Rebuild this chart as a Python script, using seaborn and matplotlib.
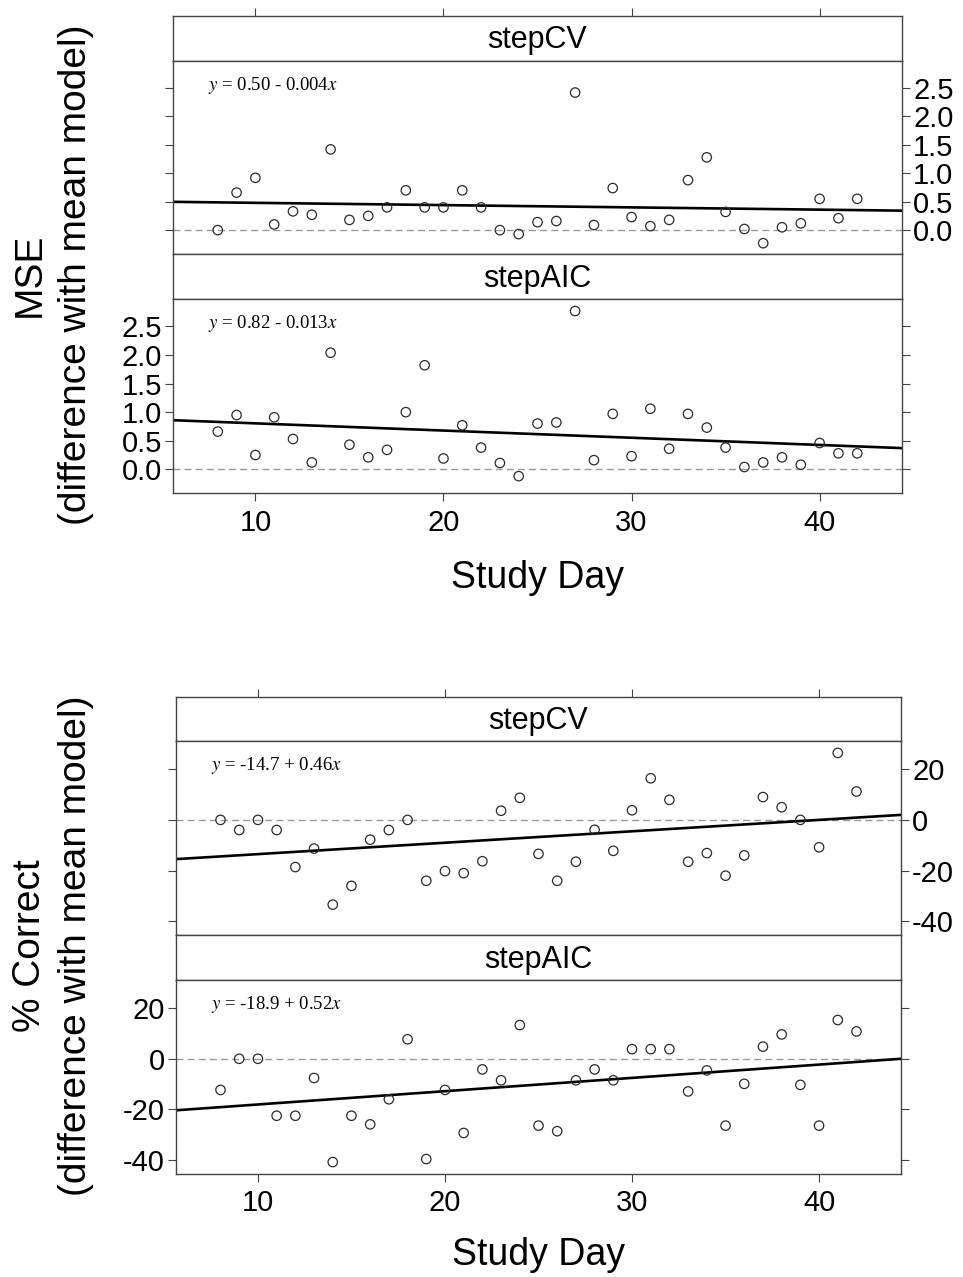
# Lattice-style comparison of stepCV / stepAIC against the mean model
import matplotlib
matplotlib.use('Agg')
import matplotlib.pyplot as plt
import seaborn as sns
import pandas as pd

sns.set_style('ticks')
plt.rcParams['font.family'] = ['Liberation Sans', 'DejaVu Sans']
plt.rcParams['mathtext.fontset'] = 'stix'
plt.rcParams['text.color'] = 'black'

# Data
days = [8, 9, 10, 11, 12, 13, 14, 15, 16, 17, 18, 19, 20, 21, 22, 23, 24,
        25, 26, 27, 28, 29, 30, 31, 32, 33, 34, 35, 36, 37, 38, 39, 40, 41, 42]

mse_stepcv = [0.00, 0.66, 0.92, 0.10, 0.33, 0.27, 1.42, 0.18, 0.25, 0.40, 0.70, 0.40,
              0.40, 0.70, 0.40, 0.00, -0.07, 0.14, 0.16, 2.42, 0.09, 0.74, 0.23, 0.07,
              0.18, 0.88, 1.28, 0.32, 0.02, -0.23, 0.05, 0.12, 0.55, 0.21, 0.55]
mse_stepaic = [0.66, 0.95, 0.25, 0.91, 0.53, 0.12, 2.04, 0.43, 0.21, 0.34, 1.00, 1.82,
               0.19, 0.77, 0.38, 0.11, -0.12, 0.80, 0.82, 2.77, 0.16, 0.97, 0.23, 1.06,
               0.36, 0.97, 0.73, 0.38, 0.04, 0.12, 0.21, 0.08, 0.46, 0.28, 0.28]

pc_stepcv = [0.0, -4.0, 0.0, -4.0, -18.6, -11.3, -33.4, -26.0, -7.8, -4.0, 0.0, -24.0,
             -20.2, -21.0, -16.3, 3.6, 8.7, -13.4, -24.0, -16.5, -3.9, -12.2, 3.8, 16.4,
             7.9, -16.5, -13.1, -22.0, -14.0, 9.0, 5.0, 0.0, -10.8, 26.4, 11.2]
pc_stepaic = [-12.3, 0.0, 0.0, -22.5, -22.5, -7.6, -40.8, -22.5, -25.9, -16.0, 7.7, -39.6,
              -12.3, -29.3, -4.2, -8.5, 13.3, -26.4, -28.6, -8.5, -4.2, -8.5, 3.8, 3.8,
              3.8, -12.9, -4.6, -26.4, -9.9, 4.8, 9.6, -10.3, -26.4, 15.3, 10.8]

models = ['stepCV', 'stepAIC']
mse_eqs = ['0.50 - 0.004', '0.82 - 0.013']
pc_eqs = ['-14.7 + 0.46', '-18.9 + 0.52']
# regression lines as drawn (intercept, slope)
mse_lines = [(0.52, -0.004), (0.93, -0.0126)]
pc_lines = [(-18.0, 0.45), (-23.3, 0.525)]

xticks = [10, 20, 30, 40]
mse_yticks = [0.0, 0.5, 1.0, 1.5, 2.0, 2.5]
mse_ylabels = ['0.0', '0.5', '1.0', '1.5', '2.0', '2.5']
pc_yticks = [-40, -20, 0, 20]
pc_ylabels = ['-40', '-20', '0', '20']

W, H = 963, 1277
XLIM = (5.62, 44.38)
EDGE = '#444444'

fig = plt.figure(figsize=(W / 100, H / 100), dpi=100)


def box(x0, x1, y0, y1):
    return [x0 / W, 1 - y1 / H, (x1 - x0) / W, (y1 - y0) / H]


def draw_block(x0, x1, edges, series, ylim, yticks, ylabels, eqs, lines,
               ylab, ylab_y, xlab_y):
    for i, model in enumerate(models):
        # strip
        sax = fig.add_axes(box(x0, x1, edges[2 * i], edges[2 * i + 1]))
        sax.set_xlim(XLIM)
        sax.set_ylim(0, 1)
        sax.set_yticks([])
        if i == 0:
            sax.xaxis.tick_top()
            sax.set_xticks(xticks)
            sax.tick_params(axis='x', top=True, labeltop=False, direction='out',
                            length=6, width=0.8, color=EDGE)
        else:
            sax.set_xticks([])
        sax.text(0.5, 0.45, model, transform=sax.transAxes, ha='center',
                 va='center', fontsize=22, color='black')
        for sp in sax.spines.values():
            sp.set_color(EDGE)
            sp.set_linewidth(1.0)

        # panel
        ax = fig.add_axes(box(x0, x1, edges[2 * i + 1], edges[2 * i + 2]))
        df = pd.DataFrame({'day': days, 'value': series[i]})
        ax.axhline(0, color='#9a9a9a', lw=1.0, ls=(0, (5, 3)), zorder=1)
        a, b = lines[i]
        ax.axline((0, a), slope=b, color='black', lw=1.9, zorder=2)
        sns.scatterplot(data=df, x='day', y='value', ax=ax, marker='o',
                        facecolor='none', edgecolor='#2b2b2b', s=46,
                        linewidth=0.9, zorder=3)
        ax.text(0.048, 0.874, '$y$ = ' + eqs[i] + '$x$', transform=ax.transAxes,
                family='Liberation Serif', fontsize=13.5, va='center',
                color='black')
        ax.set_xlim(XLIM)
        ax.set_ylim(ylim)
        ax.set_xticks(xticks)
        ax.set_yticks(yticks)
        ax.set_yticklabels(ylabels)
        ax.set_xlabel('')
        ax.set_ylabel('')
        ax.tick_params(axis='x', bottom=(i == 1), labelbottom=(i == 1),
                       direction='out', length=6, width=0.8, color=EDGE,
                       labelcolor='black', labelsize=21, pad=5)
        ax.tick_params(axis='y', left=True, right=True, labelleft=(i == 1),
                       labelright=(i == 0), direction='out', length=6,
                       width=0.8, color=EDGE, labelcolor='black',
                       labelsize=21, pad=2)
        for sp in ax.spines.values():
            sp.set_color(EDGE)
            sp.set_linewidth(1.0)

    fig.text(53 / W, 1 - ylab_y / H, ylab, rotation=90, ha='center', va='center',
             fontsize=28, linespacing=1.35, multialignment='center', color='black')
    fig.text((x0 + x1) / 2 / W, 1 - xlab_y / H, 'Study Day', ha='center',
             va='center', fontsize=27, color='black')


# MSE block
draw_block(173, 902, [15.7, 60.7, 254, 299, 493.3],
           [mse_stepcv, mse_stepaic], (-0.42, 2.98), mse_yticks, mse_ylabels,
           mse_eqs, mse_lines, 'MSE\n(difference with mean model)', 275, 578)

# % correct block
draw_block(176, 901, [696.7, 741, 935.3, 980, 1174],
           [pc_stepcv, pc_stepaic], (-45.5, 31.1), pc_yticks, pc_ylabels,
           pc_eqs, pc_lines, '% Correct\n(difference with mean model)', 946, 1255)

fig.savefig('out.png', dpi=100)
